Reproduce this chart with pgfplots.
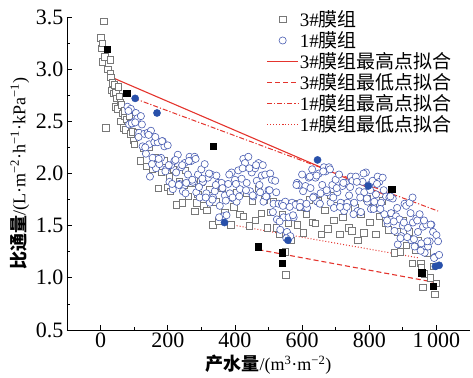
\documentclass[border=0pt]{standalone}
\usepackage{fontspec}
\setmainfont{Liberation Serif}
\newfontfamily\cjk{Noto Sans CJK SC}
\usepackage{pgfplots}
\usepackage{pgfplotstable}
\pgfplotsset{compat=1.18}
\definecolor{fitred}{RGB}{228,52,45}
\definecolor{sqgray}{RGB}{120,120,120}
\definecolor{circblue}{RGB}{72,92,178}
\definecolor{ptblue}{RGB}{40,80,170}
\newcommand\zh[1]{{\cjk #1}}

\pgfplotstableread{
x y
0 3.30
2 3.20
5 3.25
10 3.46
5 3.07
12 3.12
22 3.00
28 3.09
28 2.96
15 2.44
30 2.92
33 2.80
35 2.87
38 2.77
40 2.85
44 2.64
45 2.78
48 2.72
50 2.62
53 2.83
55 2.74
58 2.68
60 2.50
62 2.66
65 2.58
68 2.44
70 2.55
72 2.60
74 2.42
78 2.52
82 2.62
85 2.55
88 2.48
90 2.38
95 2.40
98 2.32
100 2.28
109 2.39
118 2.12
127 2.24
136 2.07
145 2.25
154 2.04
163 2.15
172 1.86
181 2.01
190 2.12
199 1.87
204 1.97
208 1.83
217 2.04
226 1.70
235 1.92
244 1.72
248 1.89
253 2.03
262 1.78
271 1.91
280 1.64
286 1.72
289 1.80
298 1.92
307 1.69
316 1.65
325 1.85
334 1.51
343 1.73
352 1.54
361 1.86
370 1.63
379 1.77
388 1.51
397 1.68
406 1.82
415 1.61
424 1.59
433 1.81
442 1.50
451 1.74
460 1.55
469 1.86
478 1.62
487 1.75
496 1.48
505 1.63
514 1.73
523 1.48
532 1.42
541 1.61
550 1.25
551 1.03
559 1.52
568 1.36
577 1.71
586 1.51
595 1.68
604 1.43
613 1.61
622 1.75
631 1.53
640 1.52
649 1.74
658 1.42
667 1.65
676 1.47
685 1.79
694 1.55
703 1.69
712 1.42
721 1.58
730 1.71
739 1.48
748 1.45
757 1.67
766 1.36
775 1.61
784 1.43
793 1.76
802 1.53
811 1.67
820 1.42
829 1.59
838 1.74
847 1.52
856 1.46
865 1.62
874 1.24
883 1.44
892 1.25
901 1.55
910 1.31
919 1.44
928 1.14
937 1.27
946 1.36
954 1.14
955 1.10
959 0.91
964 1.04
973 1.24
982 1.00
991 1.11
995 0.84
1000 0.95
}\sqdata

\pgfplotstableread{
x y
80 2.64
85 2.47
90 2.62
95 2.48
100 2.50
105 2.58
110 2.53
115 2.39
120 2.55
125 2.26
130 2.38
135 2.19
140 2.39
145 2.28
150 2.41
155 2.15
160 2.30
165 2.05
170 2.30
175 2.09
180 2.15
185 2.31
190 2.26
195 2.04
200 2.27
205 1.92
210 2.08
215 1.85
220 2.12
225 2.01
230 2.18
235 1.90
240 2.06
245 1.83
250 2.10
255 1.91
260 1.99
265 2.16
270 2.12
275 1.92
280 2.16
285 1.82
290 1.99
295 1.77
300 2.04
305 1.92
310 2.09
315 1.81
320 1.96
325 1.72
330 1.99
335 1.77
340 1.83
345 1.98
350 1.91
355 1.69
360 1.91
365 1.59
370 1.79
375 1.60
380 1.90
385 1.81
390 2.01
395 1.76
400 1.94
405 1.73
410 2.03
415 1.85
420 1.95
425 2.14
430 2.10
435 1.91
440 2.16
445 1.83
450 2.01
455 1.78
460 2.05
465 1.93
470 2.10
475 1.82
480 1.98
485 1.73
490 1.99
495 1.78
500 1.84
505 2.00
510 1.94
515 1.71
520 1.93
525 1.56
530 1.71
535 1.46
540 1.71
545 1.58
550 1.73
555 1.44
560 1.58
565 1.40
570 1.72
575 1.58
580 1.70
585 1.91
590 1.89
595 1.72
600 1.99
605 1.68
610 1.88
615 1.67
620 1.96
625 1.86
630 2.04
635 1.78
640 1.96
645 1.73
650 2.00
655 1.81
660 1.89
665 2.06
670 2.02
675 1.82
680 2.06
685 1.72
690 1.89
695 1.67
700 1.94
705 1.82
710 1.99
715 1.72
720 1.88
725 1.64
730 1.91
735 1.72
740 1.79
745 1.97
750 1.93
755 1.72
760 1.97
765 1.64
770 1.83
775 1.63
780 1.92
785 1.82
790 2.01
795 1.73
800 1.89
805 1.66
810 1.93
815 1.73
820 1.80
825 1.97
830 1.92
835 1.72
840 1.96
845 1.61
850 1.78
855 1.52
860 1.77
865 1.62
870 1.76
875 1.45
880 1.59
885 1.32
890 1.56
895 1.40
900 1.50
905 1.71
910 1.69
915 1.48
920 1.72
925 1.36
930 1.53
935 1.30
940 1.57
945 1.44
950 1.61
955 1.33
960 1.49
965 1.24
970 1.51
975 1.30
980 1.35
985 1.51
990 1.44
995 1.20
1000 1.41
83 2.60
93 2.48
103 2.49
113 2.35
123 2.47
133 2.25
143 2.37
147 1.97
153 2.09
163 2.35
173 2.14
183 2.31
193 2.02
203 2.08
213 1.90
223 2.13
233 1.89
243 2.08
253 1.81
263 2.12
273 1.94
283 2.14
293 1.87
303 1.95
313 1.77
323 2.00
333 1.75
343 1.89
353 1.58
363 1.86
373 1.74
383 1.99
393 1.77
403 1.90
413 1.78
423 2.05
433 1.84
443 2.05
453 1.79
463 2.08
473 1.89
483 2.08
493 1.78
503 1.84
513 1.63
523 1.82
533 1.54
543 1.69
553 1.38
563 1.68
573 1.60
583 1.89
593 1.68
603 1.83
613 1.71
623 1.97
633 1.77
643 1.98
653 1.71
663 2.02
673 1.84
683 2.04
693 1.77
703 1.86
713 1.68
723 1.91
733 1.68
743 1.87
753 1.61
763 1.92
773 1.77
783 2.00
793 1.76
803 1.84
813 1.66
823 1.90
833 1.66
843 1.84
853 1.55
863 1.78
873 1.54
883 1.67
893 1.38
903 1.53
913 1.39
923 1.62
929 1.77
933 1.37
943 1.55
953 1.26
963 1.55
973 1.35
983 1.51
993 1.19
1005 1.35
1008 1.22
}\cidata

\begin{document}
\begin{tikzpicture}
\begin{axis}[
  scale only axis, width=403pt, height=313pt,
  xmin=-100, xmax=1100, ymin=0.5, ymax=3.5,
  axis x line*=bottom, axis y line*=left,
  axis line style={-, line width=0.9pt, black},
  tick align=inside,
  xtick={0,200,400,600,800,1000},
  xticklabels={0,200,400,600,800,1\,000},
  minor xtick={100,300,500,700,900},
  ytick={0.5,1,1.5,2,2.5,3,3.5},
  yticklabels={0.5,1.0,1.5,2.0,2.5,3.0,3.5},
  minor ytick={0.75,1.25,1.75,2.25,2.75,3.25},
  major tick length=5pt, minor tick length=3pt,
  tick style={black, line width=0.8pt},
  tick label style={font=\fontsize{22}{22}\selectfont},
  xticklabel style={yshift=1pt},
  xlabel={\zh{\bfseries 产水量}/(m\textsuperscript{3}·m\textsuperscript{−2})},
  ylabel={\zh{\bfseries 比通量}/(L·m\textsuperscript{−2}·h\textsuperscript{−1}·kPa\textsuperscript{−1})},
  label style={font=\fontsize{18}{19}\selectfont},
  xlabel style={yshift=-1pt},
  legend style={at={(axis description cs:0.487,1.03)}, anchor=north west,
    draw=none, fill=none, font=\fontsize{19}{20}\selectfont,
    row sep=1.5pt, nodes={inner sep=1pt},
    /tikz/every even column/.append style={column sep=2pt}},
  legend cell align=left,
  legend image code/.code={\draw[mark repeat=2,mark phase=2,#1] plot coordinates {(0cm,0cm) (0.55cm,0cm) (1.1cm,0cm)};},
]
\addplot[only marks, mark=square*, mark size=3.2pt, mark options={draw=sqgray, fill=white, line width=0.55pt}] table {\sqdata};
\addlegendentry{3\#\zh{膜组}}
\addplot[only marks, mark=*, mark size=3.6pt, mark options={draw=circblue, fill=white, line width=0.6pt}] table {\cidata};
\addlegendentry{1\#\zh{膜组}}
\addplot[fitred, line width=1.1pt] coordinates {(20,2.94) (865,1.77)};
\addlegendentry{3\#\zh{膜组最高点拟合}}
\addplot[fitred, line width=1.1pt, dash pattern=on 5pt off 3pt] coordinates {(470,1.27) (990,0.96)};
\addlegendentry{3\#\zh{膜组最低点拟合}}
\addplot[fitred, line width=1.0pt, dash pattern=on 5pt off 2pt on 1.2pt off 2pt] coordinates {(100,2.72) (1005,1.64)};
\addlegendentry{1\#\zh{膜组最高点拟合}}
\addplot[fitred, line width=1.0pt, dash pattern=on 1pt off 2pt] coordinates {(370,1.52) (950,1.19)};
\addlegendentry{1\#\zh{膜组最低点拟合}}
\addplot[forget plot, only marks, mark=square*, mark size=3.2pt, black] coordinates {
 (20,3.19) (78,2.77) (335,2.26) (867,1.85) (470,1.30) (541,1.24) (541,1.14) (956,1.05) (991,0.92)};
\addplot[forget plot, only marks, mark=*, mark size=3.6pt, ptblue] coordinates {
 (103,2.72) (168,2.58) (646,2.13) (797,1.88) (369,1.53) (558,1.36) (997,1.11) (1008,1.12)};
\coordinate (O) at (rel axis cs:0,0);
\coordinate (E) at (rel axis cs:1,1);
\end{axis}
\path ([shift={(-67pt,-48pt)}]O) rectangle ([shift={(3pt,17pt)}]E);
\end{tikzpicture}
\end{document}
